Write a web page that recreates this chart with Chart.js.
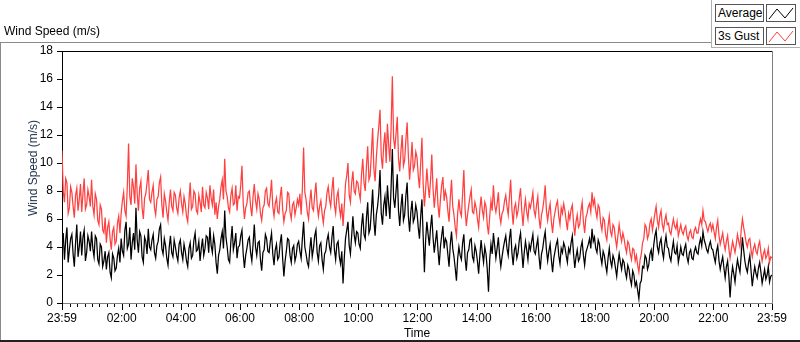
<!DOCTYPE html>
<html>
<head>
<meta charset="utf-8">
<script src="https://cdn.jsdelivr.net/npm/chart.js@4.4.1/dist/chart.umd.min.js"></script>
<style>
  html, body { margin: 0; padding: 0; background: #fff; }
  body { width: 800px; height: 342px; position: relative; overflow: hidden;
         font-family: "Liberation Sans", Arial, sans-serif; font-size: 12px; color: #000; }
  #wrap { position: absolute; left: 0; top: 0; width: 800px; height: 342px; }
  .abs { position: absolute; white-space: nowrap; }
  .frame-top { left: 0; top: 42px; width: 712px; height: 1px; background: #8a8a8a; }
  .frame-left { left: 0; top: 42px; width: 1px; height: 300px; background: #8a8a8a; }
  .frame-bottom { left: 0; top: 340px; width: 800px; height: 2px; background: #222; }
  .panel-left { left: 711px; top: 0; width: 1px; height: 48px; background: #b0b0b0; }
  .panel-bottom { left: 711px; top: 47px; width: 89px; height: 1px; background: #b0b0b0; }
  .lg-box { height: 16px; line-height: 16px; border: 1px solid #555; background: #fff;
            padding: 0 2px; box-sizing: content-box; }
  .lg-sw { width: 28px; height: 16px; border: 1px solid #555; background: #fff; }
</style>
</head>
<body>
<div id="wrap"><canvas id="chart" width="800" height="342"></canvas></div>
<div class="abs frame-top"></div>
<div class="abs frame-left"></div>
<div class="abs frame-bottom"></div>
<div class="abs panel-left"></div>
<div class="abs panel-bottom"></div>
<div class="abs" style="left:4px;top:24px;">Wind Speed (m/s)</div>
<div class="abs" style="left:33px;top:168px;transform:translate(-50%,-50%) rotate(-90deg);color:#1c2d4a;">Wind Speed (m/s)</div>
<div class="abs" style="left:417px;top:326px;transform:translateX(-50%);">Time</div>
<div class="abs lg-box" style="left:715px;top:4px;width:43px;">Average</div>
<div class="abs lg-sw" style="left:766px;top:4px;">
  <svg width="28" height="16"><polyline points="2,14 10,4 18,13 26,3" fill="none" stroke="#000" stroke-width="1"/></svg>
</div>
<div class="abs lg-box" style="left:715px;top:27px;width:43px;">3s Gust</div>
<div class="abs lg-sw" style="left:766px;top:27px;">
  <svg width="28" height="16"><polyline points="2,14 10,4 18,13 26,3" fill="none" stroke="#ff4040" stroke-width="1"/></svg>
</div>

<script>
// Sampling interval of the traces (minutes from 23:59)
const stepMinutes = 2.5;

// Average wind speed (m/s), 24 values per hour
const avgSpeed = [
  4.2,5.0,3.1,4.5,5.4,2.9,3.8,4.6,4.9,3.5,2.6,4.3,5.6,3.3,4.0,5.1,3.4,4.7,5.2,3.0,3.6,4.8,4.4,3.7,
  5.1,3.9,3.3,4.8,4.6,3.1,2.8,4.2,4.0,2.6,3.0,3.7,2.4,3.3,3.6,2.2,1.8,3.5,3.2,2.3,2.5,3.4,3.9,2.9,
  4.6,3.7,3.4,5.2,5.8,3.9,4.2,5.4,3.1,4.3,5.0,3.8,6.8,4.5,3.6,5.1,4.8,3.3,2.9,4.7,4.4,3.5,5.3,4.0,
  3.8,4.5,4.9,3.6,3.2,4.1,4.4,5.3,5.6,3.9,3.5,4.6,4.1,3.2,2.7,4.0,4.8,3.6,3.3,4.5,4.0,3.4,3.0,4.2,
  4.5,3.6,3.1,4.2,3.7,3.0,2.6,3.9,4.3,3.2,3.4,4.5,5.0,3.7,3.8,4.4,3.0,3.9,4.6,3.4,3.9,4.8,4.7,3.6,
  5.4,4.1,3.6,4.8,4.2,2.9,2.1,3.4,3.8,4.6,5.1,3.9,6.6,4.7,4.0,3.1,2.9,4.4,5.5,3.8,4.3,5.0,3.2,4.0,
  4.1,4.8,5.2,3.5,2.5,3.4,3.9,4.5,4.7,3.6,3.0,4.2,5.6,4.0,3.4,4.3,4.4,3.1,2.3,3.6,3.8,4.9,4.6,3.7,
  3.6,4.4,5.0,3.5,2.7,3.8,4.2,3.1,3.3,4.3,4.9,3.2,1.9,3.0,3.7,4.6,4.5,3.4,2.9,3.9,4.1,3.0,3.4,4.2,
  4.4,3.7,3.2,4.6,5.8,4.0,3.5,2.9,2.6,3.8,4.7,3.3,3.9,4.8,5.2,3.6,3.0,4.1,4.3,3.1,2.4,3.5,3.7,4.5,
  4.9,4.0,3.6,4.7,5.5,3.8,3.1,4.2,4.4,3.3,2.8,3.7,1.4,3.2,4.6,5.2,5.8,4.1,3.5,4.8,6.2,4.9,4.3,5.1,
  5.0,4.2,3.9,5.5,6.4,4.9,4.6,6.1,7.2,5.0,5.3,6.6,8.1,5.9,4.8,6.3,6.9,7.8,9.5,6.4,5.6,7.0,7.6,6.2,
  8.4,7.1,6.0,8.3,11.0,7.5,6.8,8.0,9.2,6.6,5.5,6.9,7.8,5.9,6.3,7.7,8.6,6.2,5.1,6.5,7.3,5.8,6.1,7.0,
  6.5,5.4,4.6,6.2,7.4,4.8,2.2,4.5,5.8,4.9,4.1,5.4,6.3,4.7,3.6,4.4,5.2,3.8,2.7,4.0,4.8,5.5,3.9,4.6,
  4.4,3.5,2.6,4.2,5.1,3.9,3.3,2.5,1.6,3.2,4.0,3.4,3.1,4.3,4.9,3.2,2.3,3.6,3.8,4.5,4.6,3.3,3.0,4.1,
  3.7,3.0,2.1,3.4,4.5,3.6,2.9,4.0,3.5,2.4,0.8,3.1,4.2,3.5,5.0,4.1,3.2,3.9,4.7,3.4,2.6,3.3,3.9,4.4,
  4.8,3.9,3.4,4.6,5.3,3.6,2.7,3.8,4.1,3.2,3.6,4.5,5.0,3.7,2.5,3.6,4.4,3.8,3.1,4.2,3.8,4.4,4.9,3.7,
  3.5,4.1,4.6,3.3,2.4,3.5,3.9,4.6,5.1,3.8,3.0,3.7,4.2,3.1,2.2,3.2,3.7,4.2,4.5,3.4,2.8,3.9,3.6,4.3,
  4.0,3.4,2.9,3.9,3.6,4.3,4.8,3.5,2.5,3.3,3.8,3.0,3.2,4.0,4.4,3.4,2.7,3.6,3.9,4.2,4.6,3.9,5.3,4.4,
  4.7,3.9,3.6,4.5,4.2,3.3,2.8,3.7,3.4,2.7,2.2,3.2,3.9,3.0,2.6,3.4,3.1,2.5,1.9,2.8,3.5,2.9,2.4,3.1,
  2.9,2.2,1.8,2.7,2.4,1.7,1.3,2.3,2.0,1.2,1.5,0.9,0.3,1.4,1.6,2.6,2.5,3.4,3.2,2.4,2.7,3.5,3.8,3.0,
  4.1,4.8,5.2,4.0,3.6,4.3,4.6,3.7,3.2,4.2,4.8,4.0,3.9,3.3,3.0,3.8,4.4,3.6,3.5,4.1,2.9,3.4,4.0,3.5,
  3.4,3.9,4.2,3.3,2.9,3.6,3.8,3.2,3.1,3.7,4.0,3.6,3.5,4.2,4.6,4.1,5.1,4.5,4.2,3.8,3.6,4.1,4.4,3.9,
  3.8,3.3,2.9,3.7,4.1,3.0,2.4,2.9,3.3,2.5,1.8,2.6,3.0,1.9,0.4,1.8,2.6,2.1,1.5,2.4,3.1,2.6,2.2,3.4,
  4.7,3.8,3.0,2.5,2.2,2.9,3.4,2.3,1.2,2.0,2.6,2.1,1.8,2.5,2.9,2.2,1.4,1.9,2.4,1.7,2.0,2.6,1.5,1.9,
  2.0
];

// 3 s gust (m/s), same sampling
const gustSpeed = [
  10.9,8.0,7.2,8.9,8.6,6.4,6.8,8.3,7.9,6.9,6.1,7.7,8.2,6.6,7.4,8.5,6.5,7.8,8.9,6.7,7.0,8.1,7.6,6.9,
  8.8,6.9,6.3,7.8,7.4,5.9,5.6,7.0,6.7,5.2,5.0,6.1,4.3,5.4,5.8,4.6,3.8,5.1,5.4,4.2,4.4,5.7,6.2,5.0,
  6.4,7.3,7.9,6.6,6.2,8.4,11.4,7.6,7.0,8.9,8.3,7.1,9.9,7.8,6.6,8.2,8.7,6.8,6.0,7.5,7.8,8.6,9.5,7.4,
  7.2,7.9,8.4,6.8,6.3,7.4,7.6,8.6,9.0,7.0,6.1,7.8,7.3,6.5,5.9,7.2,8.1,6.9,6.6,7.9,7.7,6.8,6.4,7.5,
  8.0,7.1,6.5,7.6,7.1,6.2,5.8,7.3,8.6,6.7,6.9,8.0,7.8,6.6,6.4,7.7,7.2,6.5,8.3,7.0,6.8,7.9,7.5,6.7,
  8.4,7.5,7.0,8.1,6.3,7.2,6.0,6.9,7.4,8.3,8.8,7.4,10.3,8.0,7.6,6.8,6.5,7.7,8.2,7.0,7.1,8.4,6.6,7.6,
  7.5,8.4,9.8,7.2,6.0,6.8,7.1,7.9,8.0,6.9,6.2,7.6,8.5,7.3,6.7,7.8,7.4,6.4,5.9,6.8,7.0,8.0,8.2,7.1,
  6.9,7.7,8.8,6.9,6.2,7.1,7.5,6.5,6.4,7.6,8.3,6.7,5.8,6.4,6.6,7.9,7.8,6.5,6.0,7.0,7.2,6.3,6.8,7.4,
  7.0,7.8,6.3,8.2,11.1,7.9,7.4,6.5,6.0,7.2,8.1,6.8,6.6,7.7,8.6,7.0,6.2,6.9,7.3,6.4,5.7,6.6,6.9,7.9,
  8.3,7.4,6.9,8.1,9.0,7.0,6.4,7.6,8.0,6.8,6.2,7.1,5.5,6.9,8.5,9.1,10.0,7.7,7.2,8.6,9.4,8.0,7.8,8.7,
  8.6,7.9,7.4,9.2,10.3,8.6,8.0,9.8,11.2,8.8,9.1,10.7,12.5,9.6,8.7,10.4,11.6,12.6,13.8,10.5,9.6,11.3,12.2,10.0,
  12.8,11.3,10.1,12.5,16.2,11.8,11.0,12.1,13.3,10.3,9.4,10.9,12.0,9.8,10.2,11.7,12.9,10.5,8.8,10.1,11.5,9.5,9.8,10.8,
  10.4,9.1,8.2,10.0,11.8,8.5,6.9,8.1,9.6,8.4,7.5,8.8,10.6,8.2,6.8,7.8,8.9,7.0,6.1,7.4,8.4,9.0,7.3,8.0,
  7.6,6.6,5.8,7.5,8.8,6.9,6.3,5.4,4.8,6.4,7.4,6.5,6.2,7.8,9.5,6.7,5.5,6.3,7.0,7.6,8.1,6.5,6.4,7.2,
  6.8,6.0,5.4,6.7,7.6,6.6,6.1,7.2,6.9,5.6,4.9,6.2,7.3,6.6,8.4,7.0,6.5,7.1,7.9,6.3,5.7,6.4,6.6,7.3,
  7.7,6.9,6.3,7.6,8.8,6.7,5.6,6.8,7.1,6.2,6.6,7.5,8.2,6.6,5.5,6.7,7.4,6.5,6.0,7.1,6.8,7.3,7.9,6.6,
  6.2,7.0,7.6,6.1,5.3,6.3,6.7,7.4,8.4,6.6,5.9,6.6,7.1,5.8,5.0,6.0,6.5,7.0,7.3,6.2,5.6,6.8,6.4,7.1,
  6.6,5.9,5.2,6.4,6.0,6.7,7.0,5.7,4.8,5.8,6.3,5.4,5.6,6.6,7.2,5.8,5.0,6.1,6.4,6.9,7.1,6.5,7.9,7.0,
  7.4,6.6,6.1,7.0,6.8,5.7,5.2,6.1,5.9,4.9,4.5,5.5,6.2,5.1,4.8,5.6,5.4,4.6,4.0,4.8,5.6,4.9,4.4,5.0,
  4.6,4.0,3.6,4.4,4.2,3.5,3.1,3.9,3.8,3.0,3.4,2.7,2.2,3.1,3.5,4.3,4.6,5.6,5.4,4.6,4.9,5.7,6.0,5.2,
  5.8,6.4,6.9,5.9,5.4,6.2,6.6,5.6,5.2,5.9,6.3,5.6,5.7,5.1,4.9,5.5,6.0,5.5,5.3,5.8,4.8,5.2,5.6,5.1,
  4.9,5.3,5.5,4.8,4.5,5.0,5.2,4.7,4.6,5.2,5.4,5.0,5.0,5.6,6.0,5.6,6.6,5.9,5.8,5.4,5.1,5.5,5.7,5.2,
  5.6,5.1,4.6,5.4,5.9,4.8,4.2,4.6,5.0,4.3,3.8,4.4,4.8,3.9,3.2,3.8,4.4,4.0,3.6,4.2,4.9,4.4,4.0,5.2,
  6.0,5.4,4.9,4.3,4.0,4.5,4.6,3.8,3.3,3.9,4.2,3.7,3.5,4.1,4.4,3.6,3.0,3.5,3.8,3.2,3.4,3.9,2.9,3.3,
  3.2
];

// Labelled time ticks (minutes since 23:59) and their text
const xTickValues = [0, 121, 241, 361, 481, 601, 721, 841, 961, 1081, 1201, 1321, 1440];
const xTickLabels = ['23:59', '02:00', '04:00', '06:00', '08:00', '10:00', '12:00',
                     '14:00', '16:00', '18:00', '20:00', '22:00', '23:59'];

const toPoints = arr => arr.map((v, i) => ({ x: i * stepMinutes, y: v }));

// minor ticks every 15 min (clock aligned)
function minorTicks() {
  const out = [];
  for (let m = 16; m < 1440; m += 15) out.push(m);
  return out;
}

// Frame lines and x tick marks in the LabVIEW look
const framePlugin = {
  id: 'frame',
  afterDraw(chart) {
    const { ctx, chartArea: a } = chart;
    const xs = chart.scales.x;
    ctx.save();
    ctx.lineWidth = 1;
    ctx.strokeStyle = '#000';
    ctx.beginPath();
    ctx.moveTo(a.left, a.top + 0.5);
    ctx.lineTo(a.right, a.top + 0.5);
    ctx.stroke();
    ctx.strokeStyle = '#808080';
    ctx.beginPath();
    ctx.moveTo(a.right + 0.5, a.top);
    ctx.lineTo(a.right + 0.5, a.bottom);
    ctx.stroke();
    ctx.strokeStyle = '#000';
    ctx.beginPath();
    minorTicks().forEach(m => {
      const px = Math.round(xs.getPixelForValue(m)) + 0.5;
      ctx.moveTo(px, a.bottom + 1);
      ctx.lineTo(px, a.bottom + 4);
    });
    xTickValues.forEach(m => {
      const px = Math.round(xs.getPixelForValue(m)) + 0.5;
      ctx.moveTo(px, a.bottom + 1);
      ctx.lineTo(px, a.bottom + 7);
    });
    ctx.stroke();
    ctx.restore();
  }
};

new Chart(document.getElementById('chart'), {
  type: 'line',
  data: {
    datasets: [
      {
        label: 'Average',
        data: toPoints(avgSpeed),
        borderColor: '#000000',
        borderWidth: 1.25,
        pointRadius: 0,
        tension: 0
      },
      {
        label: '3s Gust',
        data: toPoints(gustSpeed),
        borderColor: '#ff4040',
        borderWidth: 1.25,
        pointRadius: 0,
        tension: 0
      }
    ]
  },
  options: {
    responsive: false,
    animation: false,
    events: [],
    layout: { padding: { left: 0, right: 28, top: 51, bottom: 0 } },
    plugins: { legend: { display: false }, tooltip: { enabled: false } },
    scales: {
      x: {
        type: 'linear',
        min: 0,
        max: 1440,
        afterFit: s => { s.height = 39; },
        afterBuildTicks: s => { s.ticks = xTickValues.map(v => ({ value: v })); },
        grid: { display: true, drawOnChartArea: false, drawTicks: false },
        border: { color: '#808080', width: 1 },
        ticks: {
          autoSkip: false,
          maxRotation: 0,
          padding: 8,
          color: '#000',
          font: { family: 'Liberation Sans', size: 12 },
          callback: v => xTickLabels[xTickValues.indexOf(v)] ?? ''
        }
      },
      y: {
        min: 0,
        max: 18,
        afterFit: s => { s.width = 62; },
        grid: { drawOnChartArea: false, tickLength: 5, tickColor: '#000' },
        border: { color: '#000', width: 1 },
        ticks: {
          stepSize: 2,
          padding: 4,
          color: '#000',
          font: { family: 'Liberation Sans', size: 12 }
        }
      }
    }
  },
  plugins: [framePlugin]
});
</script>
</body>
</html>
